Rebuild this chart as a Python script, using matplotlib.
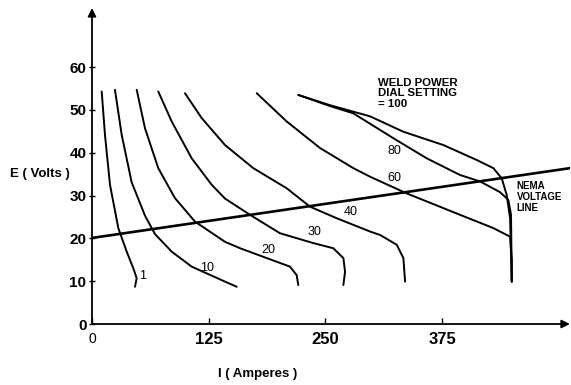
import matplotlib.pyplot as plt

plt.rcParams['font.family'] = ['Liberation Sans', 'DejaVu Sans']

# volt-ampere curves (I in amperes, E in volts)
i_1 = [10.4, 13.9, 19.3, 28.2, 37.2, 44.3, 47.9, 46.1]
e_1 = [54.3, 44.2, 32.5, 22.4, 16.9, 13.0, 10.7, 8.7]

i_10 = [24.6, 31.8, 42.5, 56.8, 67.5, 85.4, 106.8, 142.5, 155.0]
e_10 = [54.7, 44.2, 33.1, 25.3, 21.0, 16.9, 13.4, 9.9, 8.7]

i_20 = [47.9, 56.8, 71.0, 88.9, 110.4, 142.5, 158.6, 187.2, 212.1, 219.3, 221.0]
e_20 = [54.7, 45.7, 36.4, 29.4, 23.9, 19.2, 17.7, 15.4, 13.4, 11.4, 9.1]

i_30 = [71.0, 85.4, 106.8, 128.3, 142.5, 169.3, 201.4, 237.1, 258.5, 269.3, 271.1, 269.3]
e_30 = [54.3, 47.3, 38.7, 32.5, 29.3, 25.5, 21.2, 18.9, 17.7, 15.4, 12.2, 9.1]

i_40 = [99.6, 117.5, 142.5, 172.8, 208.6, 233.6, 262.2, 297.9, 308.6, 326.5, 333.6, 335.4]
e_40 = [53.9, 48.1, 41.8, 36.4, 31.7, 27.4, 24.7, 21.6, 20.8, 18.5, 15.4, 9.9]

i_60 = [176.5, 208.6, 244.3, 280.0, 297.9, 337.2, 394.3, 430.0, 447.9, 449.7, 449.7]
e_60 = [53.9, 47.3, 41.1, 36.4, 34.4, 30.5, 25.5, 22.4, 20.4, 15.0, 9.9]

i_80 = [221.0, 255.0, 280.0, 322.8, 358.6, 394.3, 415.7, 437.1, 446.0, 448.9, 449.7]
e_80 = [53.5, 50.9, 49.2, 43.4, 38.7, 34.8, 33.3, 30.8, 29.0, 25.5, 9.9]

i_100 = [221.0, 255.0, 297.9, 333.6, 376.4, 412.2, 430.0, 439.0, 444.3, 447.9, 449.7]
e_100 = [53.5, 51.1, 48.5, 44.9, 41.8, 38.3, 36.4, 34.0, 30.1, 24.7, 9.9]

curves = [(i_1, e_1), (i_10, e_10), (i_20, e_20), (i_30, e_30),
          (i_40, e_40), (i_60, e_60), (i_80, e_80), (i_100, e_100)]

# NEMA voltage line
nema_i = [0, 512]
nema_e = [20.1, 36.4]

# curve labels: text, I, E
labels = ['1', '10', '20', '30', '40', '60', '80']
label_i = [54.1, 123.7, 188.9, 238.9, 277.3, 323.6, 323.6]
label_e = [11.3, 13.0, 17.3, 21.6, 26.1, 34.0, 40.3]

x_ticks = [0, 125, 250, 375]
y_ticks = [0, 10, 20, 30, 40, 50, 60]

fig = plt.figure(figsize=(5.71, 3.85), dpi=100)
ax = fig.add_axes([0.1611, 0.1584, 0.837, 0.8208])

for ii, ee in curves:
    ax.plot(ii, ee, color='black', lw=1.4, solid_capstyle='round',
            solid_joinstyle='round')
ax.plot(nema_i, nema_e, color='black', lw=1.9)

for t, x, y in zip(labels, label_i, label_e):
    ax.text(x, y, t, fontsize=9, ha='center', va='center')

ax.text(306.8, 57.5, 'WELD POWER\nDIAL SETTING\n= 100', fontsize=8.2,
        fontweight='bold', ha='left', va='top', linespacing=1.05)
ax.text(455, 33.4, 'NEMA\nVOLTAGE\nLINE', fontsize=7, fontweight='bold',
        ha='left', va='top', linespacing=1.15)

ax.set_xlim(0, 512)
ax.set_ylim(0, 73.8)
for s in ax.spines.values():
    s.set_visible(False)

# axes drawn as arrows
ax.annotate('', xy=(0, 1), xytext=(0, 0), xycoords='axes fraction',
            arrowprops=dict(arrowstyle='-|>', color='black', lw=1.3,
                            mutation_scale=12, shrinkA=0, shrinkB=0))
ax.annotate('', xy=(1, 0), xytext=(0, 0), xycoords='axes fraction',
            arrowprops=dict(arrowstyle='-|>', color='black', lw=1.3,
                            mutation_scale=12, shrinkA=0, shrinkB=0))

ax.set_xticks(x_ticks)
ax.set_xticklabels(['0', '125', '250', '375'], fontsize=12, fontweight='bold')
ax.get_xticklabels()[0].set_fontweight('normal')
ax.get_xticklabels()[0].set_fontsize(10)
ax.set_yticks(y_ticks)
ax.set_yticklabels([str(v) for v in y_ticks], fontsize=11, fontweight='bold')
ax.tick_params(axis='x', direction='in', length=4, width=1, pad=6)
ax.tick_params(axis='y', direction='inout', length=5, width=1, pad=1.5)

ax.set_ylabel('E ( Volts )', rotation=0, fontsize=9.5, fontweight='bold',
              ha='right', va='center')
ax.yaxis.set_label_coords(-0.046, 0.475)
ax.set_xlabel('I ( Amperes )', fontsize=9.5, fontweight='bold', va='center')
ax.xaxis.set_label_coords(0.347, -0.158)

fig.savefig('out.png', dpi=100)
